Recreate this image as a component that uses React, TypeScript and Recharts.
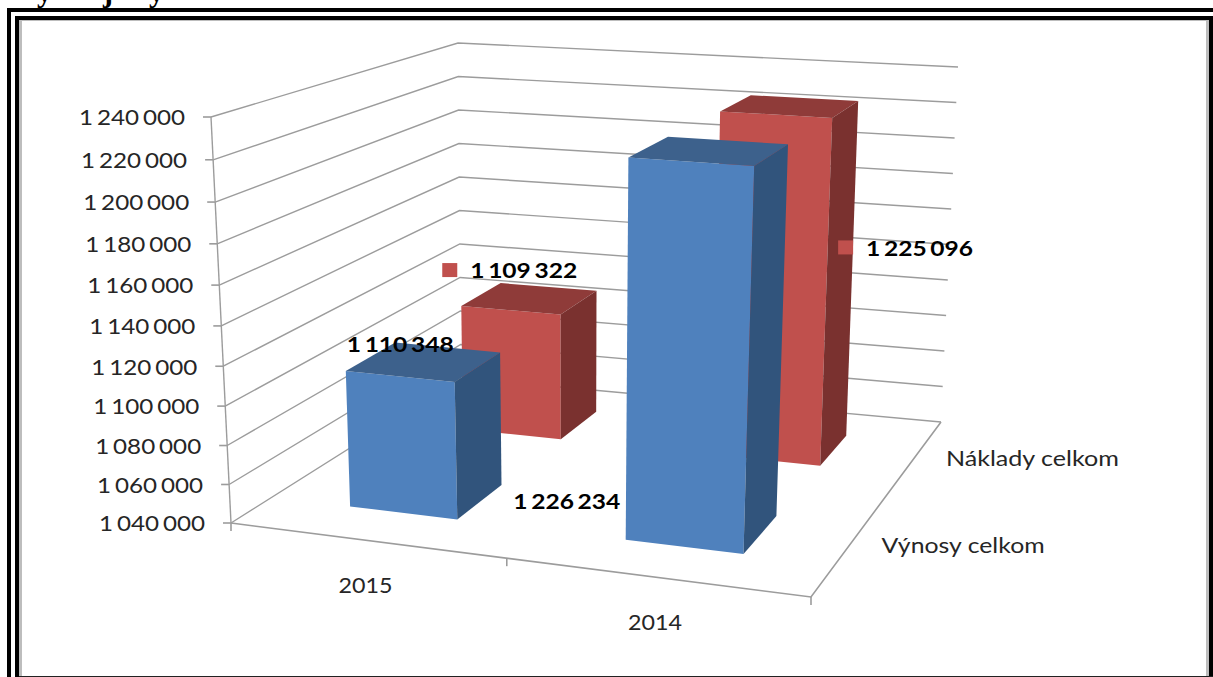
import React from 'react';
import { ComposedChart, Bar, XAxis, YAxis, CartesianGrid, LabelList } from 'recharts';

// ---- data ----
const categories = ['2015', '2014'];
const seriesNames = ['Výnosy celkom', 'Náklady celkom'];
const vynosy = [1110348, 1226234];
const naklady = [1109322, 1225096];
const yTicks = [1040000, 1060000, 1080000, 1100000, 1120000, 1140000, 1160000, 1180000, 1200000, 1220000, 1240000];
const valueLabels = ['1 110 348', '1 226 234', '1 109 322', '1 225 096'];

const rows = categories.map((c, i) => ({ category: c, vynosy: vynosy[i], naklady: naklady[i] }));

// ---- layout of the 3D box ----
const W = 1213, H = 677;
const PL = 231, PR = 811, PT = 117, PB = 523;
type Pt = [number, number];
const FLOOR: Pt[] = [[231, 523], [811, 597], [941, 422], [461, 378]];
const CEIL: Pt[] = [[211, 117], [830, 160], [958, 67], [458, 43]];
const GRID = '#9c9c9c';
const TXT = '#262626';
const FONT = 'Lato, "Open Sans", sans-serif';

function squareToQuad(q: Pt[]) {
  const [A, B, D, C] = q;
  const dx1 = B[0] - D[0], dx2 = C[0] - D[0], sx = A[0] - B[0] + D[0] - C[0];
  const dy1 = B[1] - D[1], dy2 = C[1] - D[1], sy = A[1] - B[1] + D[1] - C[1];
  const den = dx1 * dy2 - dx2 * dy1;
  const g = (sx * dy2 - dx2 * sy) / den;
  const h = (dx1 * sy - sx * dy1) / den;
  const a = B[0] - A[0] + g * B[0], b = C[0] - A[0] + h * C[0];
  const d = B[1] - A[1] + g * B[1], e = C[1] - A[1] + h * C[1];
  return (u: number, v: number): Pt => {
    const w = g * u + h * v + 1;
    return [(a * u + b * v + A[0]) / w, (d * u + e * v + A[1]) / w];
  };
}
const floorAt = squareToQuad(FLOOR);
const ceilAt = squareToQuad(CEIL);

function project(uIn: number, v: number, t: number): Pt {
  const u = uIn + 0.02 * uIn * (1 - uIn);
  const f = floorAt(u, v), c = ceilAt(u, v);
  const r = 1.06 - 0.06 * v;
  const s = t / (t + (1 - t) * r);
  return [f[0] + (c[0] - f[0]) * s, f[1] + (c[1] - f[1]) * s];
}
const yToT = (y: number) => (PB - y) / (PB - PT);
const xToU = (x: number) => (x - PL) / (PR - PL);
const poly = (pts: Pt[]) => pts.map((p) => `${p[0].toFixed(1)},${p[1].toFixed(1)}`).join(' ');

const vBand = (i: number): [number, number] => {
  const n = seriesNames.length;
  return [(i + 0.3) / n, (i + 0.7) / n];
};

// ---- bars ----
const COLORS = [
  { front: '#4f81bd', top: '#3d618c', side: '#31547c' },
  { front: '#c0504d', top: '#8f3b39', side: '#7a312f' },
];

const makeBarShape = (si: number) => (props: any) => {
  const { x, y, width, height } = props;
  const u0 = xToU(x), u1 = xToU(x + width);
  const t = yToT(y), [v0, v1] = vBand(si);
  const tb = yToT(y + height);
  const c = COLORS[si];
  const p = (u: number, v: number, tt: number) => project(u, v, tt);
  return (
    <g>
      <polygon points={poly([p(u0, v0, tb), p(u1, v0, tb), p(u1, v0, t), p(u0, v0, t)])} fill={c.front} />
      <polygon points={poly([p(u0, v0, t), p(u1, v0, t), p(u1, v1, t), p(u0, v1, t)])} fill={c.top} />
      <polygon points={poly([p(u1, v0, tb), p(u1, v1, tb), p(u1, v1, t), p(u1, v0, t)])} fill={c.side} />
    </g>
  );
};

// label offsets from the projected top-front-left corner of each bar
const LABEL_OFFSETS: Record<string, { dx: number; dy: number; key: boolean }> = {
  '0-0': { dx: 1, dy: -26, key: false },
  '0-1': { dx: -115, dy: 344, key: false },
  '1-0': { dx: 9, dy: -35, key: true },
  '1-1': { dx: 146, dy: 137, key: true },
};

const makeLabel = (si: number) => (props: any) => {
  const { x, y, index } = props;
  const [v0] = vBand(si);
  const a = project(xToU(x), v0, yToT(y));
  const o = LABEL_OFFSETS[`${si}-${index}`];
  const tx = a[0] + o.dx, ty = a[1] + o.dy;
  const text = valueLabels[si * categories.length + index];
  return (
    <g>
      {o.key && <rect x={tx - 28} y={ty - 8} width={15} height={14} fill={COLORS[si].front} />}
      <text x={tx} y={ty} dy="0.35em" fontFamily={FONT} fontSize={21} fontWeight={700} fill="#000" wordSpacing={-2}
        textLength={107} lengthAdjust="spacingAndGlyphs">{text}</text>
    </g>
  );
};

// ---- walls ----
const gridLine = (props: any) => {
  const { y1, index } = props;
  const t = yToT(y1);
  const a = project(0, 0, t), b = project(0, 1, t), c = project(1, 1, t);
  const floorExtras = Math.abs(t) < 1e-6;
  return (
    <g key={`g${index}`}>
      <polyline points={poly([a, b, c])} fill="none" stroke={GRID} strokeWidth={1.4} />
      {floorExtras && (
        <>
          <polyline points={poly([project(0, 0, 0), project(0, 0, 1)])} fill="none" stroke={GRID} strokeWidth={1.4} />
          <polyline points={poly([project(0, 0, 0), project(1, 0, 0), project(1, 1, 0)])} fill="none" stroke={GRID} strokeWidth={1.6} />
          {seriesNames.map((s, i) => {
            const [v0, v1] = vBand(i);
            const p = project(1, (v0 + v1) / 2, 0);
            return (
              <text key={s} x={p[0] + 32} y={p[1]} dy="0.35em" fontFamily={FONT} fontSize={22} fill={TXT}
                textLength={i === 0 ? 163 : 173} lengthAdjust="spacingAndGlyphs">{s}</text>
            );
          })}
        </>
      )}
    </g>
  );
};

const YTick = (props: any) => {
  const { y, payload } = props;
  const t = yToT(y);
  const a = project(0, 0, t);
  const label = String(payload.value).replace(/\B(?=(\d{3})+$)/g, ' ');
  return (
    <g>
      <line x1={a[0] - 8} y1={a[1]} x2={a[0]} y2={a[1]} stroke={GRID} strokeWidth={1.6} />
      <text x={a[0] - 132} y={a[1] + 1} dy="0.35em" fontFamily={FONT} fontSize={21} fill={TXT} wordSpacing={-2}
        textLength={106} lengthAdjust="spacingAndGlyphs">{label}</text>
    </g>
  );
};

const XTick = (props: any) => {
  const { x, payload, index } = props;
  const band = (PR - PL) / categories.length;
  const uC = xToU(x), uL = xToU(x - band / 2), uR = xToU(x + band / 2);
  const c = project(uC, 0, 0);
  const l = project(uL, 0, 0), r = project(uR, 0, 0);
  return (
    <g>
      <line x1={l[0]} y1={l[1]} x2={l[0]} y2={l[1] + 8} stroke={GRID} strokeWidth={1.6} />
      {index === categories.length - 1 && (
        <line x1={r[0]} y1={r[1]} x2={r[0]} y2={r[1] + 8} stroke={GRID} strokeWidth={1.6} />
      )}
      <text x={c[0]} y={c[1] + 45} dy="0.35em" textAnchor="middle" fontFamily={FONT} fontSize={22} fill={TXT}
        textLength={54} lengthAdjust="spacingAndGlyphs">{payload.value}</text>
    </g>
  );
};

// ---- page frame ----
const band = (left: number, top: number, width: number, height: number, background: string) => (
  <div style={{ position: 'absolute', left, top, width, height, background }} />
);

export default function App() {
  return (
    <div style={{ position: 'absolute', left: 0, top: 0, width: W, height: H, overflow: 'hidden', background: '#fff' }}>
      <div style={{ position: 'absolute', left: 0, top: -22, fontFamily: '"Liberation Serif", serif', fontWeight: 700, fontSize: 30, color: '#000', lineHeight: '28px', whiteSpace: 'nowrap' }}>
        <span style={{ position: 'absolute', left: 37 }}>y</span>
        <span style={{ position: 'absolute', left: 103 }}>j</span>
        <span style={{ position: 'absolute', left: 149 }}>y</span>
      </div>
      {band(7, 8, W - 7, 4, '#000')}
      {band(7, 8, 4, H - 8, '#000')}
      {band(15, 16, W - 15, 4, '#000')}
      {band(15, 16, 4, H - 16, '#000')}
      {band(1209, 16, 4, H - 16, '#000')}
      {band(19, 20, 3, H - 20, '#bdbdbd')}
      {band(19, 20, 1190, 1, '#bdbdbd')}
      {band(1206, 20, 3, H - 20, '#bdbdbd')}
      {band(19, 676, 1194, 1, '#222')}
      <div style={{ position: 'absolute', left: 0, top: 0 }}>
        <ComposedChart
          width={W}
          height={H}
          data={rows}
          barCategoryGap="30%"
          margin={{ top: PT, bottom: H - PB - 30, left: PL - 60, right: W - PR }}
        >
          <CartesianGrid horizontal={gridLine} vertical={false} stroke={GRID} />
          <XAxis xAxisId="a" dataKey="category" axisLine={false} tickLine={false} height={30} tick={<XTick />} interval={0} />
          <XAxis xAxisId="b" dataKey="category" hide />
          <YAxis
            width={60}
            domain={[1040000, 1240000]}
            ticks={yTicks}
            interval={0}
            axisLine={false}
            tickLine={false}
            tick={<YTick />}
          />
          <Bar xAxisId="b" dataKey="naklady" isAnimationActive={false} shape={makeBarShape(1)}>
            <LabelList dataKey="naklady" content={makeLabel(1)} />
          </Bar>
          <Bar xAxisId="a" dataKey="vynosy" isAnimationActive={false} shape={makeBarShape(0)}>
            <LabelList dataKey="vynosy" content={makeLabel(0)} />
          </Bar>
        </ComposedChart>
      </div>
    </div>
  );
}
